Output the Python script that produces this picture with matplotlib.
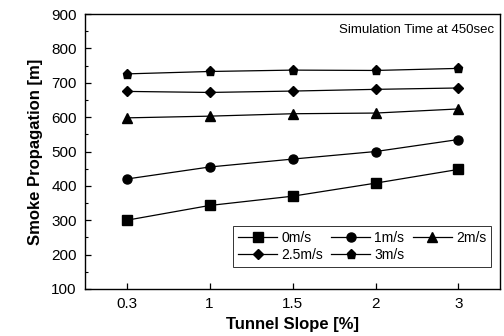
import matplotlib
matplotlib.use("Agg")
import matplotlib.pyplot as plt
import matplotlib.ticker as ticker

plt.rcParams["font.family"] = ["Liberation Sans", "DejaVu Sans"]

# smoke front distance after 450 s for each ventilation speed
slopes = ["0.3", "1", "1.5", "2", "3"]
v0 = [300, 343, 370, 408, 448]
v1 = [420, 455, 478, 500, 535]
v2 = [598, 603, 610, 612, 624]
v25 = [675, 672, 676, 681, 685]
v3 = [726, 733, 737, 736, 742]

series = [
    (v0, "s", "0m/s"),
    (v1, "o", "1m/s"),
    (v2, "^", "2m/s"),
    (v25, "D", "2.5m/s"),
    (v3, "p", "3m/s"),
]

fig = plt.figure(figsize=(5.04, 3.36), dpi=100)
ax = fig.add_axes([0.169, 0.140, 0.823, 0.818])

x = range(len(slopes))
lines = []
for vals, mk, lab in series:
    ms = 5.5 if mk == "D" else 6.5
    ln, = ax.plot(x, vals, color="k", lw=0.9, marker=mk, ms=ms, label=lab)
    lines.append(ln)

ax.set_xlim(-0.5, len(slopes) - 0.5)
ax.set_ylim(100, 900)
ax.set_xticks(list(x))
ax.set_xticklabels(slopes)
ax.yaxis.set_major_locator(ticker.MultipleLocator(100))
ax.yaxis.set_minor_locator(ticker.MultipleLocator(50))
ax.tick_params(direction="in", labelsize=11, length=4, width=0.9, pad=6)
ax.tick_params(which="minor", direction="in", length=2.5, width=0.8)
for sp in ax.spines.values():
    sp.set_linewidth(1.0)

ax.set_xlabel("Tunnel Slope [%]", fontsize=12, fontweight="bold", labelpad=4)
ax.set_ylabel("Smoke Propagation [m]", fontsize=12, fontweight="bold", labelpad=6)
ax.text(0.985, 0.965, "Simulation Time at 450sec", transform=ax.transAxes,
        ha="right", va="top", fontsize=9.5)

# legend filled row by row: 0, 1, 2 / 2.5, 3
order = [0, 3, 1, 4, 2]
leg = ax.legend([lines[i] for i in order], [series[i][2] for i in order],
                loc="lower right", bbox_to_anchor=(0.985, 0.07), ncol=3,
                fontsize=10, frameon=True, fancybox=False, handlelength=2.8,
                columnspacing=0.6, handletextpad=0.3, labelspacing=0.25,
                borderpad=0.35, borderaxespad=0.2)
leg.get_frame().set_edgecolor("k")
leg.get_frame().set_linewidth(0.7)

fig.savefig("out.png", dpi=100)
